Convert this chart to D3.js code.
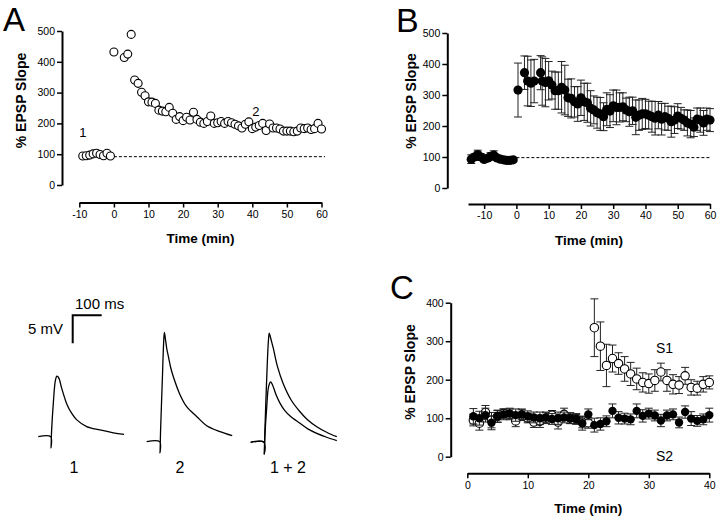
<!DOCTYPE html>
<html><head><meta charset="utf-8">
<script src="https://cdn.jsdelivr.net/npm/d3@7"></script>
<style>body{margin:0;background:#fff} svg text{font-family:"Liberation Sans",Arial,Helvetica,sans-serif;fill:#000}</style>
</head><body><svg id="c" width="720" height="520"></svg>
<script>
// ---------- Panel A (single experiment, open circles) ----------
const aTime = [-9,-8,-7,-6,-5,-4,-3,-2,-1,0,3,4,5,6,7,8,9,10,11,12,13,14,15,16,17,18,19,20,21,22,23,24,25,26,27,28,29,30,31,32,33,34,35,36,37,38,39,40,41,42,43,44,45,46,47,48,49,50,51,52,53,54,55,56,57,58,59,60];
const aVal  = [94,95,97,101,103,99,95,103,94,432,414,425,489,341,330,301,290,270,269,265,243,240,238,252,233,213,222,209,220,211,236,213,204,200,206,224,200,202,206,200,206,202,197,192,185,197,205,183,188,193,200,177,198,185,185,182,175,175,175,173,175,185,183,185,180,183,200,182];
const aBaseline = 92;
const aTicksX = [-10,0,10,20,30,40,50,60];
const yTicks500 = [0,100,200,300,400,500];

// ---------- Panel B (mean ± SEM, filled circles) ----------
const bTime = [-14,-13,-12,-11,-10,-9,-8,-7,-6,-5,-4,-3,-2,-1,0.5,2.5,3.5,4.5,5.5,7.5,8,9,10,11,12,13,14,15,16,17,18,19,20,21,22,23,24,25,26,27,28,29,30,31,32,33,34,35,36,37,38,39,40,41,42,43,44,45,46,47,48,49,50,51,52,53,54,55,56,57,58,59,60];
const bVal  = [93,100,108,100,92,96,102,106,97,93,91,89,89,91,316,372,345,338,345,372,345,340,346,332,314,314,325,316,291,289,278,271,291,278,275,257,252,243,239,230,254,248,265,260,260,262,252,246,249,228,235,239,239,235,230,225,235,222,230,225,214,219,232,225,219,210,206,196,222,219,210,222,219];
const bErr  = [14,10,14,10,8,10,12,14,8,6,5,5,5,6,87,54,80,75,70,55,78,78,62,45,60,60,83,80,60,63,49,56,57,60,63,57,45,50,53,45,53,53,51,56,47,45,38,47,44,56,49,50,47,45,50,54,44,51,43,39,50,43,40,35,33,42,44,30,36,39,40,36,37];
const bBaseline = 98;
const bTicksX = [-10,0,10,20,30,40,50,60];

// ---------- Panel C (S1 open, S2 filled) ----------
const cTime = [1,2,3,4,5,6,7,8,9,10,11,12,13,14,15,16,17,18,19,20,21,22,23,24,25,26,27,28,29,30,31,32,33,34,35,36,37,38,39,40];
const s1Val = [95,87,115,95,105,112,110,93,108,100,90,92,100,108,90,110,100,98,90,88,335,287,237,255,242,228,215,202,193,190,198,220,198,188,186,210,180,178,188,193];
const s1Err = [15,18,18,20,15,12,14,15,14,12,14,16,14,12,18,16,14,12,15,14,75,63,55,35,28,32,30,28,25,25,28,23,28,25,22,22,20,18,20,17];
const s2Val = [105,100,108,88,105,110,112,108,110,105,102,100,102,98,100,102,100,98,87,110,82,85,92,119,101,99,97,119,106,112,107,94,107,110,89,116,99,93,97,108];
const s2Err = [20,18,18,18,16,14,14,16,14,14,14,16,14,14,16,14,14,14,18,14,18,16,14,18,16,14,14,18,16,14,14,16,14,14,14,16,18,14,14,18];
const cTicksX = [0,10,20,30,40];
const yTicks400 = [0,100,200,300,400];

// ---------- EPSP traces (time ms after stimulus, mV above baseline) ----------
const trace1 = [[-44,0],[-1,0],[0,-2],[2,1],[8,6],[15,10],[20,10.8],[24,10.7],[29,10.2],[36,8.8],[43,7.6],[54,5.9],[71,4.2],[89,3.0],[123,1.8],[169,1.2],[215,0.7],[252,0.4]];
const trace2 = [[-46,0],[-1,0],[0,-2],[2,2],[8,11],[12,17],[15,19.5],[19,18.2],[24,16.4],[29,15.2],[37,13.2],[46,11.6],[69,8.4],[92,6.25],[127,4.46],[161,2.86],[207,1.79],[249,1.07]];
const trace3big = [[-47,0],[-1,0],[0,-2.1],[2,2],[8,11],[14,18],[17,19.5],[21,18.8],[26,17.8],[31,16.8],[45,13.6],[65,10.5],[92,7.6],[123,5.46],[150,4.0],[181,2.79],[215,1.8],[250,1.0]];
const trace3small = [[-47,0],[-1,0],[0,-2.1],[2,1],[8,6],[15,10],[22,10.8],[27,10.4],[33,9.6],[42,8.3],[54,7.0],[70,5.7],[89,4.7],[123,3.4],[150,2.4],[181,1.6],[215,0.9],[250,0.3]];
const traceLabels = ["1","2","1 + 2"];
const scaleBarMs = 100, scaleBarMv = 5;

// =====================================================
const svg = d3.select("#c");
const FONT = '"Liberation Sans",Arial,Helvetica,sans-serif';

function styleAxis(g){
  g.select(".domain").attr("stroke","#000").attr("stroke-width",2);
  g.selectAll(".tick line").attr("stroke","#000").attr("stroke-width",1.5);
  g.selectAll(".tick text").attr("fill","#000").attr("font-size",10.5).attr("font-family",FONT);
}

function panel(cfg){
  const g = svg.append("g");
  const x = d3.scaleLinear().domain(cfg.xDomain).range(cfg.xRange);
  const y = d3.scaleLinear().domain(cfg.yDomain).range(cfg.yRange);
  const ya = g.append("g").attr("transform",`translate(${cfg.yAxisX},0)`)
    .call(d3.axisLeft(y).tickValues(cfg.yTicks).tickSize(5).tickSizeOuter(0).tickPadding(2).tickFormat(d=>String(d)));
  styleAxis(ya);
  const xa = g.append("g").attr("transform",`translate(0,${cfg.xAxisY})`)
    .call(d3.axisBottom(x).tickValues(cfg.xTicks).tickSize(5).tickSizeOuter(0).tickPadding(3).tickFormat(d=>String(d)));
  styleAxis(xa);
  g.append("text").attr("x",(cfg.xRange[0]+cfg.xRange[1])/2).attr("y",cfg.xTitleY)
    .attr("text-anchor","middle").attr("font-weight","bold").attr("font-size",13.5).text("Time (min)");
  g.append("text").attr("transform",`translate(${cfg.yTitleX},${cfg.yTitleY}) rotate(-90)`)
    .attr("text-anchor","middle").attr("font-weight","bold").attr("font-size",14).text("% EPSP Slope");
  g.append("text").attr("x",cfg.letterX).attr("y",cfg.letterY).attr("font-size",cfg.letterSize).text(cfg.letter);
  return {g,x,y};
}

function errBars(g,x,y,data,cap){
  const eb = g.append("g").attr("stroke","#222").attr("stroke-width",1).attr("fill","none");
  data.forEach(d=>{
    eb.append("line").attr("x1",x(d.t)).attr("x2",x(d.t)).attr("y1",y(d.v-d.e)).attr("y2",y(d.v+d.e));
    [d.v-d.e,d.v+d.e].forEach(v=>eb.append("line").attr("x1",x(d.t)-cap).attr("x2",x(d.t)+cap).attr("y1",y(v)).attr("y2",y(v)));
  });
}

// ---- Panel A
{
  const {g,x,y} = panel({xDomain:[-10,60],xRange:[79.3,321.5],yDomain:[0,500],yRange:[185,31],
    yAxisX:62,xAxisY:202.5,yTicks:yTicks500,xTicks:aTicksX,xTitleY:243,yTitleX:26,yTitleY:100.5,
    letter:"A",letterX:3,letterY:31,letterSize:33});
  g.append("line").attr("x1",x(0)).attr("x2",x(61)).attr("y1",y(aBaseline)).attr("y2",y(aBaseline))
    .attr("stroke","#000").attr("stroke-width",1).attr("stroke-dasharray","3,2");
  const data = aTime.map((t,i)=>({t,v:aVal[i]}));
  g.selectAll("circle.a").data(data).join("circle").attr("cx",d=>x(d.t)).attr("cy",d=>y(d.v)).attr("r",4)
    .attr("fill","#fff").attr("stroke","#000").attr("stroke-width",1.1);
  g.append("text").attr("x",x(-9)).attr("y",y(155)).attr("text-anchor","middle").attr("font-size",13).text("1");
  g.append("text").attr("x",x(41)).attr("y",y(225)).attr("text-anchor","middle").attr("font-size",13).text("2");
}

// ---- Panel B
{
  const {g,x,y} = panel({xDomain:[-15,60],xRange:[468,710],yDomain:[0,500],yRange:[188,33],
    yAxisX:447.3,xAxisY:204,yTicks:yTicks500,xTicks:bTicksX,xTitleY:245,yTitleX:415.5,yTitleY:101,
    letter:"B",letterX:396,letterY:32,letterSize:34});
  g.append("line").attr("x1",x(0)).attr("x2",x(60)).attr("y1",y(bBaseline)).attr("y2",y(bBaseline))
    .attr("stroke","#000").attr("stroke-width",1).attr("stroke-dasharray","3,2");
  const data = bTime.map((t,i)=>({t,v:bVal[i],e:bErr[i]}));
  errBars(g,x,y,data,4);
  g.selectAll("circle.b").data(data).join("circle").attr("cx",d=>x(d.t)).attr("cy",d=>y(d.v)).attr("r",4.6)
    .attr("fill","#000");
}

// ---- Panel C
{
  const {g,x,y} = panel({xDomain:[0,40],xRange:[467.3,709.3],yDomain:[0,400],yRange:[456.7,302.7],
    yAxisX:450.7,xAxisY:473.3,yTicks:yTicks400,xTicks:cTicksX,xTitleY:513,yTitleX:415,yTitleY:372,
    letter:"C",letterX:390,letterY:299,letterSize:33});
  const s1 = cTime.map((t,i)=>({t,v:s1Val[i],e:s1Err[i]}));
  const s2 = cTime.map((t,i)=>({t,v:s2Val[i],e:s2Err[i]}));
  errBars(g,x,y,s1,4);
  g.selectAll("circle.s1").data(s1).join("circle").attr("cx",d=>x(d.t)).attr("cy",d=>y(d.v)).attr("r",4.2)
    .attr("fill","#fff").attr("stroke","#000").attr("stroke-width",1.1);
  errBars(g,x,y,s2,4);
  g.selectAll("circle.s2").data(s2).join("circle").attr("cx",d=>x(d.t)).attr("cy",d=>y(d.v)).attr("r",4.2)
    .attr("fill","#000");
  g.append("text").attr("x",x(32.6)).attr("y",y(270)).attr("text-anchor","middle").attr("font-size",14).text("S1");
  g.append("text").attr("x",x(32.6)).attr("y",y(-12)).attr("text-anchor","middle").attr("font-size",14).text("S2");
}

// ---- Traces
{
  const g = svg.append("g");
  const msPx = 0.29, mvPx = 5.6;
  const mk = (x0,y0)=>({x:d3.scaleLinear().domain([0,1]).range([x0,x0+msPx]),
                         y:d3.scaleLinear().domain([0,1]).range([y0,y0-mvPx])});
  const layouts = [mk(51,436.7), mk(160,441.7), mk(264.3,442.3)];
  const sets = [[trace1],[trace2],[trace3big,trace3small]];
  sets.forEach((tr,k)=>{
    const s = layouts[k];
    const line = d3.line().x(d=>s.x(d[0])).y(d=>s.y(d[1])).curve(d3.curveCatmullRom.alpha(0.5));
    tr.forEach(t=>g.append("path").attr("d",line(t)).attr("fill","none").attr("stroke","#000").attr("stroke-width",1.3));
  });
  const labX = [74,180,288];
  traceLabels.forEach((l,k)=>g.append("text").attr("x",labX[k]).attr("y",473).attr("text-anchor","middle").attr("font-size",16).text(l));
  // scale bar
  const sb = mk(72.7,343.3);
  const sbPath = d3.line()([[sb.x(0),sb.y(0)],[sb.x(0),sb.y(scaleBarMv)],[sb.x(scaleBarMs),sb.y(scaleBarMv)]]);
  g.append("path").attr("d",sbPath).attr("fill","none").attr("stroke","#000").attr("stroke-width",2);
  g.append("text").attr("x",75).attr("y",309).attr("font-size",15).text(scaleBarMs+" ms");
  g.append("text").attr("x",63).attr("y",334).attr("text-anchor","end").attr("font-size",15).text(scaleBarMv+" mV");
}
</script></body></html>
